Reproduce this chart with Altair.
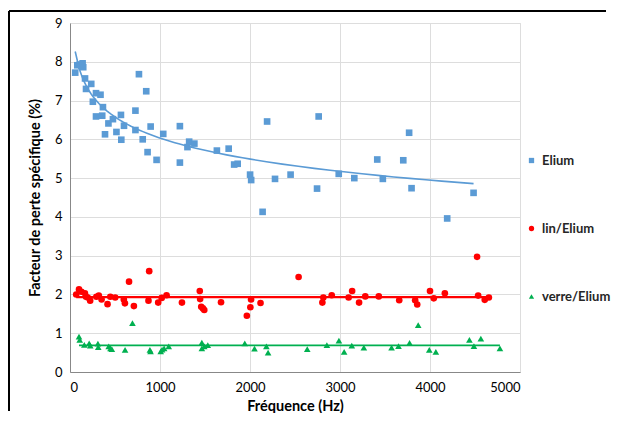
import altair as alt
import pandas as pd

series_names = ["Elium", "lin/Elium", "verre/Elium"]
series_colors = ["#5b9bd5", "#ff0000", "#00b050"]
series_shapes = ["square", "circle", "triangle-up"]

elium_f = [58, 81, 109, 128, 140, 147, 167, 178, 236, 254, 289, 339, 289, 358, 366, 389, 427, 477,
           516, 566, 570, 600, 727, 766, 727, 847, 808, 896, 862, 962, 1036, 1221, 1221, 1305, 1324,
           1382, 1632, 1763, 1824, 1863, 2001, 2013, 2190, 2140, 2278, 2451, 2763, 2745, 2986, 3159,
           3414, 3476, 3703, 3768, 3795, 4191, 4484]
elium_v = [7.72, 7.91, 7.93, 7.89, 7.96, 7.86, 7.57, 7.30, 7.43, 6.97, 7.19, 7.15, 6.59, 6.61, 6.83,
           6.13, 6.41, 6.52, 6.19, 6.63, 5.99, 6.35, 6.74, 7.68, 6.24, 7.24, 6.00, 6.33, 5.67, 5.47,
           6.14, 6.34, 5.40, 5.80, 5.94, 5.89, 5.71, 5.76, 5.35, 5.37, 5.09, 4.95, 6.46, 4.13, 4.98,
           5.09, 6.59, 4.73, 5.11, 5.00, 5.48, 4.98, 5.46, 6.17, 4.74, 3.96, 4.62]

lin_f = [69, 100, 127, 166, 178, 197, 224, 293, 320, 351, 417, 448, 502, 598, 610, 656, 710, 872,
         880, 980, 1019, 1073, 1244, 1442, 1446, 1458, 1477, 1492, 1678, 1965, 2004, 2012, 2117,
         2540, 2804, 2815, 2908, 3096, 3135, 3212, 3281, 3431, 3658, 3835, 3858, 4000, 4042, 4165,
         4523, 4535, 4608, 4654]
lin_v = [2.00, 2.13, 2.07, 2.03, 1.94, 1.92, 1.84, 1.94, 1.97, 1.87, 1.75, 1.94, 1.92, 1.87, 1.77,
         2.33, 1.70, 1.84, 2.60, 1.79, 1.91, 1.98, 1.79, 2.09, 1.88, 1.68, 1.64, 1.60, 1.80, 1.45,
         1.67, 1.87, 1.78, 2.45, 1.79, 1.92, 1.98, 1.92, 2.09, 1.79, 1.95, 1.95, 1.85, 1.85, 1.74,
         2.09, 1.90, 2.03, 2.97, 1.97, 1.86, 1.92]

verre_f = [100, 108, 159, 213, 225, 310, 314, 430, 450, 465, 612, 694, 888, 895, 1008, 1023, 1046,
           1097, 1465, 1465, 1492, 1531, 1942, 2050, 2182, 2201, 2636, 2854, 2988, 3046, 3131, 3265,
           3573, 3650, 3773, 3869, 3992, 4065, 4438, 4488, 4565, 4777]
verre_v = [0.91, 0.83, 0.70, 0.74, 0.68, 0.73, 0.64, 0.66, 0.61, 0.59, 0.57, 1.26, 0.57, 0.53, 0.53,
           0.58, 0.61, 0.66, 0.76, 0.61, 0.66, 0.69, 0.74, 0.60, 0.66, 0.50, 0.59, 0.69, 0.81, 0.52,
           0.68, 0.63, 0.63, 0.67, 0.75, 1.21, 0.57, 0.52, 0.83, 0.67, 0.86, 0.61]

x_ticks = [0, 1000, 2000, 3000, 4000, 5000]
y_ticks = [0, 1, 2, 3, 4, 5, 6, 7, 8, 9]

frames = []
for name, fs, vs in zip(series_names, [elium_f, lin_f, verre_f], [elium_v, lin_v, verre_v]):
    frames.append(pd.DataFrame({"f": fs, "v": vs, "s": name}))
df = pd.concat(frames, ignore_index=True)

FONT = "Lato"
W, H = 450, 349

xscale = alt.Scale(domain=[0, 5000], nice=False, zero=True)
yscale = alt.Scale(domain=[0, 9], nice=False, zero=True)
xaxis = alt.Axis(values=x_ticks, title="Fréquence (Hz)", grid=True, ticks=False,
                 labelPadding=9, titlePadding=5, format="d", tickCount=6,
                 labelFont=FONT, labelFontSize=13, titleFont=FONT, titleFontSize=14.5,
                 titleFontWeight="bold")
yaxis = alt.Axis(values=y_ticks, title="Facteur de perte spécifique  (%)", grid=True,
                 ticks=False, labelPadding=8, titlePadding=12, tickCount=10,
                 labelFont=FONT, labelFontSize=13, titleFont=FONT, titleFontSize=14.5,
                 titleFontWeight="bold")


def xe(field="f"):
    return alt.X(f"{field}:Q", scale=xscale, axis=xaxis)


def ye(field="v"):
    return alt.Y(f"{field}:Q", scale=yscale, axis=yaxis)


legend = alt.Legend(title=None, orient="none", legendX=455, legendY=131, rowPadding=54,
                    symbolSize=28, labelFontSize=13, labelFontWeight="bold", labelColor="#262626",
                    labelFont=FONT, symbolStrokeWidth=0)

points = alt.Chart(df).mark_point(filled=True, opacity=1, size=44).encode(
    x=xe(), y=ye(),
    color=alt.Color("s:N", scale=alt.Scale(domain=series_names, range=series_colors),
                    sort=series_names, legend=legend),
    shape=alt.Shape("s:N", scale=alt.Scale(domain=series_names, range=series_shapes),
                    sort=series_names, legend=legend),
)

blue_line = alt.Chart(df).transform_filter(alt.datum.s == "Elium").transform_regression(
    "f", "v", method="log").mark_line(color="#5b9bd5", strokeWidth=1.6).encode(x=xe(), y=ye())


def flat_trend(name, color, sw):
    return alt.Chart(df).transform_filter(alt.datum.s == name).transform_aggregate(
        mv="mean(v)", f0="min(f)", f1="max(f)"
    ).mark_rule(color=color, strokeWidth=sw).encode(
        x=xe("f0"), x2=alt.X2("f1:Q"), y=ye("mv"))


red_line = flat_trend("lin/Elium", "#ff0000", 2.4)
green_line = flat_trend("verre/Elium", "#00b050", 1.8)

top_border = alt.Chart(df).mark_rule(color="#000000", strokeWidth=1.8).encode(
    x=alt.value(-61), x2=alt.value(536), y=alt.value(-12))
left_border = alt.Chart(df).mark_rule(color="#000000", strokeWidth=1.5).encode(
    x=alt.value(-61), y=alt.value(-12), y2=alt.value(388))

chart = alt.layer(points, blue_line, red_line, green_line, top_border, left_border).properties(
    width=W, height=H, padding={"left": 0, "top": 2, "right": 0, "bottom": 0}
).configure_view(stroke="#d9d9d9").configure_axis(
    gridColor="#d9d9d9", domainColor="#d9d9d9", labelColor="#595959", titleColor="#262626"
).configure(background="white")

chart.save("out.html", embed_options={"renderer": "svg", "actions": False})
